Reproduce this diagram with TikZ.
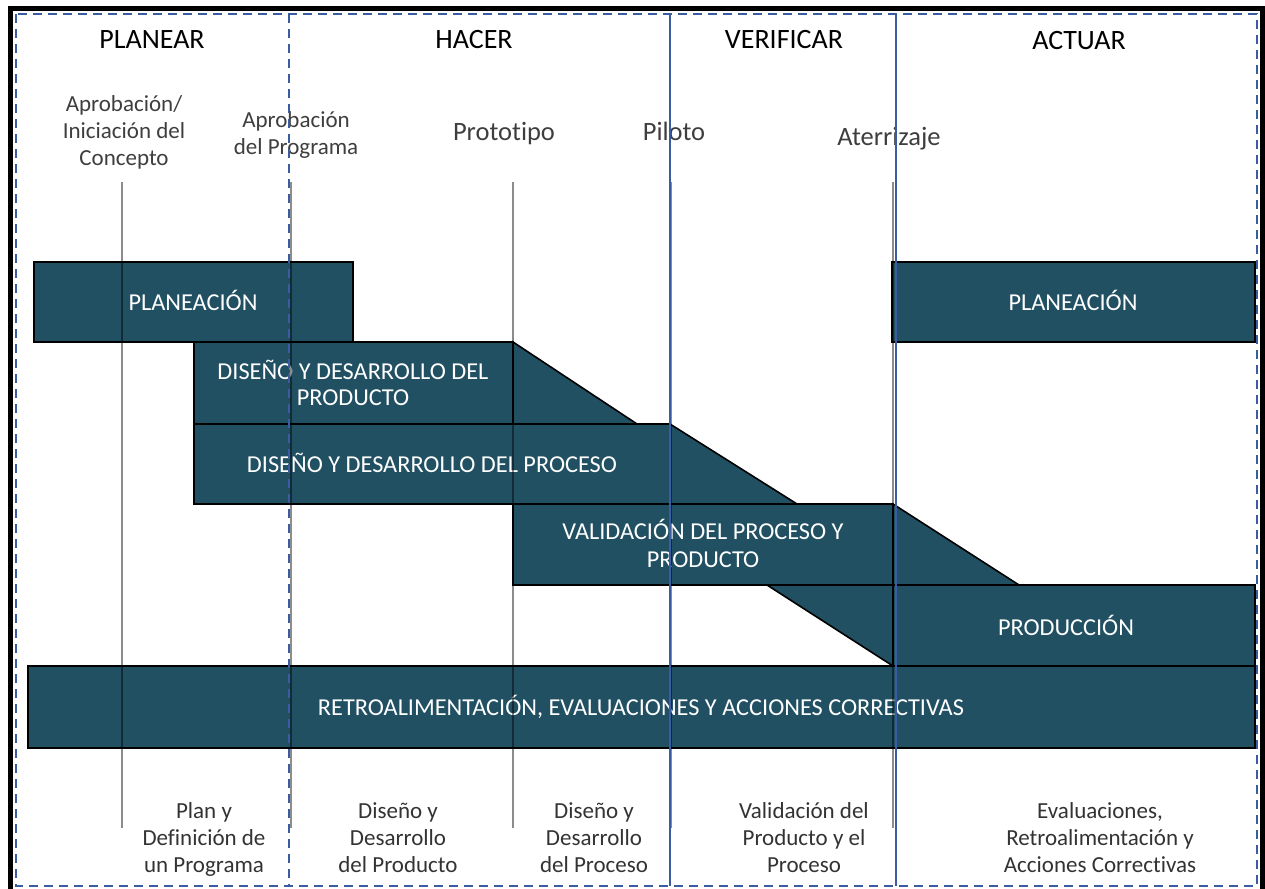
\documentclass[tikz,border=0pt]{standalone}
\usepackage{fontspec}
\setmainfont[Ligatures={NoCommon,NoRare,NoContextual}]{Carlito}
\definecolor{barfill}{HTML}{215063}
\definecolor{framecol}{HTML}{3A5CA2}
\definecolor{mstext}{HTML}{3E3E3E}
\definecolor{bottext}{HTML}{333333}
\begin{document}
\begin{tikzpicture}[x=1pt,y=-1pt,
  bar/.style={fill=barfill, draw=black, line width=1.6pt, line join=miter},
  barlabel/.style={text=white, font=\fontsize{24.3}{28}\selectfont, align=center, anchor=base, inner sep=0pt},
  head/.style={text=black, font=\fontsize{28}{32}\selectfont, anchor=base, inner sep=0pt},
  mslabel/.style={text=mstext, font=\fontsize{23}{27}\selectfont, align=center, anchor=base, inner sep=0pt},
  msbig/.style={text=mstext, font=\fontsize{26.5}{30}\selectfont, anchor=base, inner sep=0pt},
  botlabel/.style={text=bottext, font=\fontsize{23}{27}\selectfont, align=center, anchor=base, inner sep=0pt},
  msline/.style={draw=black, draw opacity=0.45, line width=1.4pt},
  framedash/.style={draw=framecol, line width=1.8pt, dash pattern=on 9pt off 6pt},
  frameline/.style={draw=framecol, line width=1.6pt}]

\useasboundingbox (0,0) rectangle (1265,888);
\clip (0,0) rectangle (1265,888);

% ---- bars of the timeline ----
\draw[bar] (34,262) rectangle (353,342);
\draw[bar] (892,262) rectangle (1255,342);
\draw[bar] (194,342) rectangle (513,424);
\draw[bar] (513,342) -- (637,424) -- (513,424) -- cycle;
\draw[bar] (194,424) rectangle (670,504);
\draw[bar] (670,424) -- (797,504) -- (670,504) -- cycle;
\draw[bar] (513,504) rectangle (893,585);
\draw[bar] (893,504) -- (1019,585) -- (893,585) -- cycle;
\draw[bar] (767,585) -- (893,666) -- (893,585) -- cycle;
\draw[bar] (893,585) rectangle (1255,666);
\draw[bar] (28,666) rectangle (1255,748);

% ---- bar captions (anchored on the baseline of the last line) ----
\node[barlabel] (tPlanA) at (193,310) {PLANEACIÓN};
\node[barlabel] (tPlanB) at (1073,310) {PLANEACIÓN};
\node[barlabel] (tProdDes) at (353,405) {DISEÑO Y DESARROLLO DEL\\[-2pt]PRODUCTO};
\node[barlabel] (tProcDes) at (432,472) {DISEÑO Y DESARROLLO DEL PROCESO};
\node[barlabel] (tVal) at (703,567) {VALIDACIÓN DEL PROCESO Y\\PRODUCTO};
\node[barlabel] (tProd) at (1066,635) {PRODUCCIÓN};
\node[barlabel] (tRet) at (641,715) {RETROALIMENTACIÓN, EVALUACIONES Y ACCIONES CORRECTIVAS};

% ---- phase headers ----
\node[head] (hPlan) at (152,49) {PLANEAR};
\node[head] (hHac) at (474,49) {HACER};
\node[head] (hVer) at (784,49) {VERIFICAR};
\node[head] (hAct) at (1079,50) {ACTUAR};

% ---- milestones ----
\node[mslabel] (m1) at (124,165) {Aprobación/\\Iniciación del\\Concepto};
\node[mslabel] (m2) at (296,154) {Aprobación\\del Programa};
\node[msbig] (m3) at (504,140) {Prototipo};
\node[msbig] (m4) at (674,140) {Piloto};
\node[msbig] (m5) at (889,145) {Aterrizaje};

\coordinate (l1t) at (122,182); \coordinate (l1b) at (122,828);
\coordinate (l2t) at (291,182); \coordinate (l2b) at (291,828);
\coordinate (l3t) at (513,182); \coordinate (l3b) at (513,828);
\coordinate (l4t) at (671,182); \coordinate (l4b) at (671,828);
\coordinate (l5t) at (893,182); \coordinate (l5b) at (893,828);
\foreach \i in {1,...,5} {\draw[msline] (l\i t) -- (l\i b);}

% ---- deliverables at the bottom ----
\node[botlabel] (b1) at (204,872) {Plan y\\Definición de\\un Programa};
\node[botlabel] (b2) at (398,872) {Diseño y\\Desarrollo\\del Producto};
\node[botlabel] (b3) at (594,872) {Diseño y\\Desarrollo\\del Proceso};
\node[botlabel] (b4) at (804,872) {Validación del\\Producto y el\\Proceso};
\node[botlabel] (b5) at (1100,872) {Evaluaciones,\\Retroalimentación y\\Acciones Correctivas};

% ---- PDCA column frames ----
\draw[framedash] (16,14) rectangle (1257,886);
\coordinate (c1t) at (289,14); \coordinate (c1b) at (289,886);
\coordinate (c2t) at (670,14); \coordinate (c2b) at (670,886);
\coordinate (c3t) at (896,14); \coordinate (c3b) at (896,886);
\draw[framedash] (c1t) -- (c1b);
\draw[frameline] (c2t) -- (c2b);
\draw[frameline] (c3t) -- (c3b);

% ---- outer border ----
\draw[line width=5pt, black] (10.5,8.5) rectangle (1262,900);
\end{tikzpicture}
\end{document}
